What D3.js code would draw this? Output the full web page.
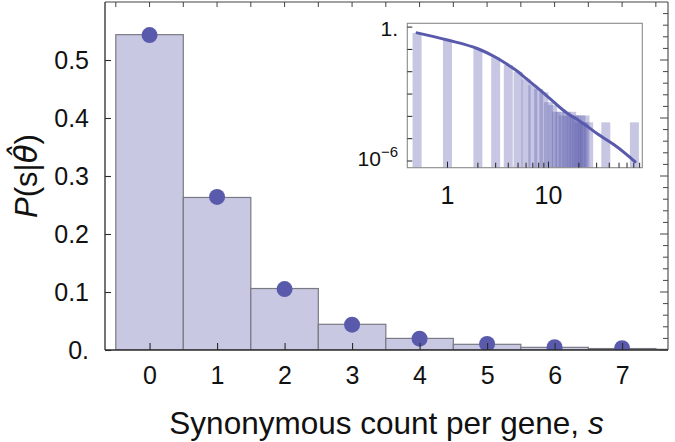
<!DOCTYPE html>
<html>
<head>
<meta charset="utf-8">
<script src="https://cdn.jsdelivr.net/npm/d3@7"></script>
<style>
  body { margin: 0; background: #fff; }
  text { font-family: "Liberation Sans", Arial, sans-serif; fill: #111; }
</style>
</head>
<body>
<svg id="chart" width="675" height="442"></svg>
<script>
// Synonymous counts per gene: observed frequencies (bars) and fitted model (dots)
const counts = [0, 1, 2, 3, 4, 5, 6, 7, 8];
const observed = [0.5437, 0.263, 0.106, 0.0443, 0.020, 0.0098, 0.0046, 0.0025, 0.0012];
const fittedCounts = [0, 1, 2, 3, 4, 5, 6, 7];
const fitted = [0.543, 0.264, 0.105, 0.0437, 0.0195, 0.0103, 0.0048, 0.0030];
const xTicks = [0, 1, 2, 3, 4, 5, 6, 7];
const yTicks = [0, 0.1, 0.2, 0.3, 0.4, 0.5];
const yTickLabels = ["0.", "0.1", "0.2", "0.3", "0.4", "0.5"];

// Inset: full tail on log-log axes (a count of zero is placed at 0.5)
const tailCounts = [0.5, 1, 2, 3, 4, 5, 6, 7, 8, 9, 10, 11, 12, 13, 14, 15, 16, 17, 18, 19, 20, 21, 22, 23, 25, 37, 71];
const tailObserved = [0.5437, 0.263, 0.106, 0.0443, 0.020, 0.0098, 0.0046, 0.0025, 0.0017, 0.0012,
  4.3e-4, 3.2e-4, 1.6e-4, 1.6e-4, 1.1e-4, 1.6e-4, 1.1e-4, 1.6e-4, 1.1e-4, 1.1e-4,
  5.4e-5, 1.1e-4, 5.4e-5, 1.1e-4, 5.4e-5, 5.4e-5, 5.4e-5];
const curveCounts = [0.5, 1, 2, 3, 4, 5, 6, 7, 8, 10, 13, 16, 20, 25, 30, 44, 60, 72];
const curveP = [0.55, 0.263, 0.107, 0.0447, 0.020, 0.010, 0.005, 0.0028, 0.0017, 7.1e-4,
  2.5e-4, 1.2e-4, 6.6e-5, 3.2e-5, 1.74e-5, 5.6e-6, 1.9e-6, 9.3e-7];
const insetXTicks = [1, 10];
const insetXLabels = ["1", "10"];
const insetXMinor = [2, 3, 4, 5, 6, 7, 8, 9, 20, 30, 40, 50, 60, 70, 80];
const insetYTicks = [1, 1e-1, 1e-2, 1e-3, 1e-4, 1e-5, 1e-6];

const barFill = "#c8c8e3";
const barStroke = "#7a7a84";
const markColor = "#5a5aac";
const axisColor = "#2a2a2a";

const svg = d3.select("#chart");

// ---------- main panel ----------
const L = 105, R = 668, T = 2, B = 350;
const x = d3.scaleLinear().domain([-0.66, 7.68]).range([L, R]);
const y = d3.scaleLinear().domain([0, 0.6]).range([B, T]);

svg.append("clipPath").attr("id", "plotClip")
  .append("rect").attr("x", L).attr("y", T).attr("width", R - L).attr("height", B - T);

const plot = svg.append("g").attr("clip-path", "url(#plotClip)");

plot.selectAll("rect.bar").data(counts).join("rect")
  .attr("class", "bar")
  .attr("x", d => x(d - 0.5))
  .attr("width", d => x(d + 0.5) - x(d - 0.5))
  .attr("y", (d, i) => y(observed[i]))
  .attr("height", (d, i) => y(0) - y(observed[i]))
  .attr("fill", barFill)
  .attr("stroke", barStroke)
  .attr("stroke-width", 1.2);

plot.selectAll("circle.fit").data(fittedCounts).join("circle")
  .attr("class", "fit")
  .attr("cx", d => x(d))
  .attr("cy", (d, i) => y(fitted[i]))
  .attr("r", 8)
  .attr("fill", markColor);

// frame: left and bottom axes, plus top and right edges
const frame = svg.append("g");
frame.append("line").attr("x1", L).attr("x2", L).attr("y1", T).attr("y2", B)
  .attr("stroke", axisColor).attr("stroke-width", 1.3);
frame.append("line").attr("x1", L).attr("x2", R).attr("y1", B).attr("y2", B)
  .attr("stroke", axisColor).attr("stroke-width", 1.3);
frame.append("line").attr("x1", L).attr("x2", R).attr("y1", T).attr("y2", T)
  .attr("stroke", "#444").attr("stroke-width", 1.1);
frame.append("line").attr("x1", R).attr("x2", R).attr("y1", T).attr("y2", B)
  .attr("stroke", "#444").attr("stroke-width", 1.1);

// bottom ticks and labels
const xAxis = d3.axisBottom(x).tickValues(xTicks).tickSizeInner(-7).tickSizeOuter(0).tickPadding(16)
  .tickFormat(d3.format("d"));
const gx = svg.append("g").attr("transform", `translate(0,${B})`).call(xAxis);
gx.select(".domain").remove();
gx.selectAll(".tick line").attr("stroke", axisColor).attr("stroke-width", 1.1);
gx.selectAll(".tick text").attr("font-size", 25).attr("fill", "#111")
  .attr("font-family", "Liberation Sans, Arial, sans-serif");

// left ticks and labels
const yAxis = d3.axisLeft(y).tickValues(yTicks).tickSizeInner(-6).tickSizeOuter(0).tickPadding(16)
  .tickFormat((d, i) => yTickLabels[i]);
const gy = svg.append("g").attr("transform", `translate(${L},0)`).call(yAxis);
gy.select(".domain").remove();
gy.selectAll(".tick line").attr("stroke", axisColor).attr("stroke-width", 1.1);
gy.selectAll(".tick text").attr("font-size", 25).attr("fill", "#111")
  .attr("font-family", "Liberation Sans, Arial, sans-serif");

// unlabeled ticks on the top and right edges
const topTicks = d3.range(-0.5, 7.51, 0.5);
svg.append("g").selectAll("line").data(topTicks).join("line")
  .attr("x1", d => x(d)).attr("x2", d => x(d))
  .attr("y1", T).attr("y2", T + 5)
  .attr("stroke", "#444").attr("stroke-width", 1);
const rightTicks = d3.range(0, 0.5801, 0.02);
svg.append("g").selectAll("line").data(rightTicks).join("line")
  .attr("x1", R).attr("x2", (d, i) => R - (i % 5 === 0 ? 8 : 5))
  .attr("y1", d => y(d)).attr("y2", d => y(d))
  .attr("stroke", "#444").attr("stroke-width", 1);

// axis titles
const xt = svg.append("text")
  .attr("x", (L + R) / 2).attr("y", 434)
  .attr("text-anchor", "middle").attr("font-size", 31.5);
xt.append("tspan").text("Synonymous count per gene, ");
xt.append("tspan").attr("font-style", "italic").text("s");

const yt = svg.append("text")
  .attr("transform", `translate(37,${(T + B) / 2}) rotate(-90)`)
  .attr("text-anchor", "middle").attr("font-size", 31);
yt.append("tspan").attr("font-style", "italic").text("P");
yt.append("tspan").text("(s|");
yt.append("tspan").attr("font-style", "italic").attr("font-family", "DejaVu Sans").text("θ\u0302");
yt.append("tspan").text(")");

// ---------- inset ----------
const iL = 407.3, iR = 642.3, iT = 23.3, iB = 167.7;
const ix = d3.scaleLog().domain([0.4, 85]).range([iL, iR]);
const iy = d3.scaleLog().domain([10 ** 0.17, 10 ** -6.3]).range([iT, iB]);

svg.append("rect").attr("x", iL).attr("y", iT).attr("width", iR - iL).attr("height", iB - iT)
  .attr("fill", "#fff");
svg.append("clipPath").attr("id", "insetClip")
  .append("rect").attr("x", iL).attr("y", iT).attr("width", iR - iL).attr("height", iB - iT);
const inset = svg.append("g").attr("clip-path", "url(#insetClip)");

const barW = 9;
inset.selectAll("rect").data(tailCounts).join("rect")
  .attr("x", d => ix(d) - barW / 2)
  .attr("width", barW)
  .attr("y", (d, i) => iy(tailObserved[i]))
  .attr("height", (d, i) => iB - iy(tailObserved[i]))
  .attr("fill", markColor)
  .attr("fill-opacity", 0.34);

const curve = d3.line()
  .x(d => ix(d[0]))
  .y(d => iy(d[1]))
  .curve(d3.curveMonotoneX);
inset.append("path")
  .datum(curveCounts.map((s, i) => [s, curveP[i]]))
  .attr("d", curve)
  .attr("fill", "none")
  .attr("stroke", markColor)
  .attr("stroke-width", 3)
  .attr("stroke-linecap", "round");

svg.append("rect").attr("x", iL).attr("y", iT).attr("width", iR - iL).attr("height", iB - iT)
  .attr("fill", "none").attr("stroke", "#8a8a8a").attr("stroke-width", 1.1);

const ig = svg.append("g");
ig.selectAll("line.yt").data(insetYTicks).join("line").attr("class", "yt")
  .attr("x1", iL).attr("x2", iL + 5)
  .attr("y1", d => iy(d)).attr("y2", d => iy(d))
  .attr("stroke", "#222").attr("stroke-width", 1);
ig.selectAll("line.xt").data(insetXTicks.concat(insetXMinor)).join("line").attr("class", "xt")
  .attr("x1", d => ix(d)).attr("x2", d => ix(d))
  .attr("y1", iB).attr("y2", (d, i) => iB - (i < insetXTicks.length ? 6 : 5))
  .attr("stroke", "#222").attr("stroke-width", 1);

ig.selectAll("text.xl").data(insetXTicks).join("text").attr("class", "xl")
  .attr("x", d => ix(d)).attr("y", 204)
  .attr("text-anchor", "middle").attr("font-size", 25)
  .text((d, i) => insetXLabels[i]);

ig.append("text").attr("x", 398).attr("y", iy(1) + 9)
  .attr("text-anchor", "end").attr("font-size", 21).text("1.");
const lab6 = ig.append("text").attr("x", 398).attr("y", iy(1e-6) + 5)
  .attr("text-anchor", "end").attr("font-size", 21);
lab6.append("tspan").text("10");
lab6.append("tspan").attr("dy", -9).attr("font-size", 15).text("\u22126");
</script>
</body>
</html>
